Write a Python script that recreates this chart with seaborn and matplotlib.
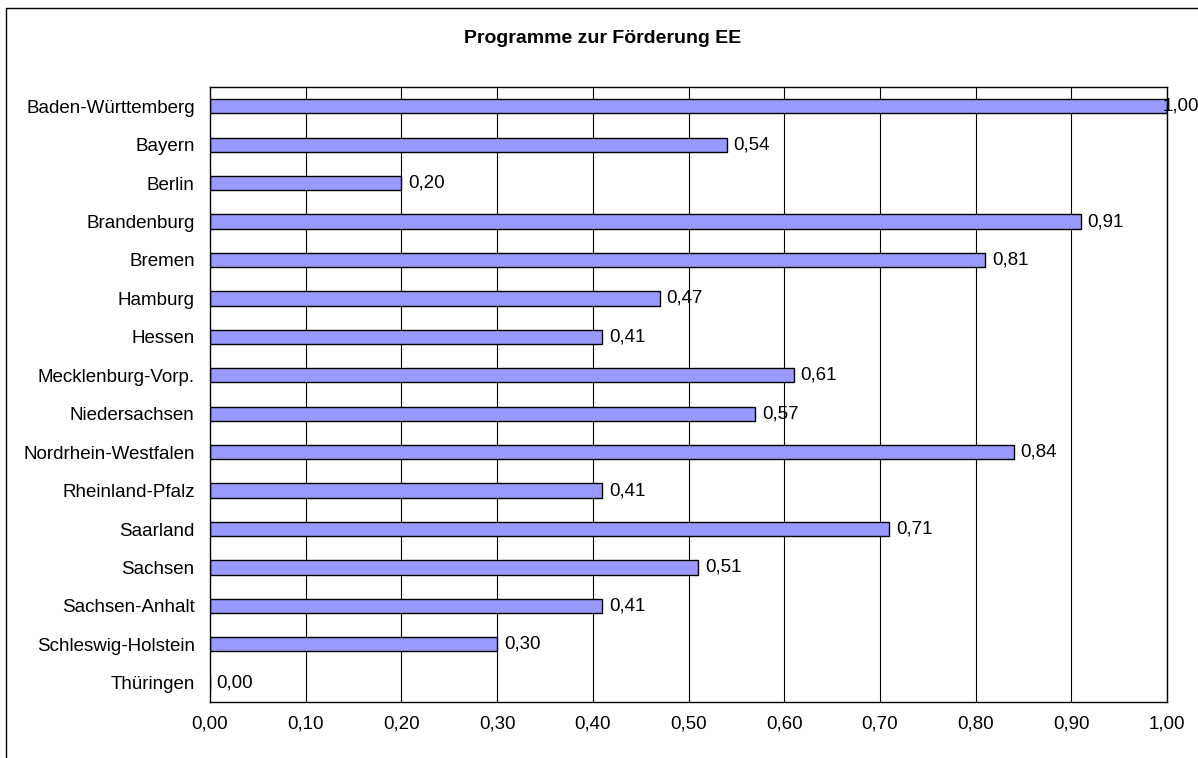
import matplotlib
matplotlib.use("Agg")
import matplotlib.pyplot as plt
from matplotlib.lines import Line2D
import seaborn as sns
import pandas as pd
import numpy as np

laender = ["Baden-Württemberg", "Bayern", "Berlin", "Brandenburg", "Bremen",
           "Hamburg", "Hessen", "Mecklenburg-Vorp.", "Niedersachsen",
           "Nordrhein-Westfalen", "Rheinland-Pfalz", "Saarland", "Sachsen",
           "Sachsen-Anhalt", "Schleswig-Holstein", "Thüringen"]
werte = [1.00, 0.54, 0.20, 0.91, 0.81, 0.47, 0.41, 0.61, 0.57,
         0.84, 0.41, 0.71, 0.51, 0.41, 0.30, 0.00]
x_ticks = [0.0, 0.1, 0.2, 0.3, 0.4, 0.5, 0.6, 0.7, 0.8, 0.9, 1.0]

df = pd.DataFrame({"land": laender, "wert": werte})

sns.set_style("white")
plt.rcParams["font.family"] = ["Liberation Sans", "DejaVu Sans"]
plt.rcParams["text.color"] = "black"
plt.rcParams["xtick.color"] = "black"
plt.rcParams["ytick.color"] = "black"

fig = plt.figure(figsize=(11.98, 7.58), dpi=100)
ax = fig.add_axes([210 / 1198, 56 / 758, 957 / 1198, 615 / 758])

sns.barplot(data=df, x="wert", y="land", orient="h", color="#9999FF",
            edgecolor="black", linewidth=1.0, width=0.37, saturation=1,
            ax=ax)

ax.set_xlim(0, 1)
ax.set_ylim(len(laender) - 0.5, -0.5)
ax.set_xticks(x_ticks)
ax.set_xticklabels([f"{v:.2f}".replace(".", ",") for v in x_ticks], fontsize=13.5)
ax.tick_params(axis="x", length=5, width=1, direction="out", pad=5)
ax.tick_params(axis="y", length=0, pad=11, labelsize=13.5)
ax.set_yticks(np.arange(-0.5, len(laender), 1), minor=True)
ax.tick_params(axis="y", which="minor", length=4, width=1, direction="out")
ax.set_xlabel("")
ax.set_ylabel("")

# vertical gridlines
for v in x_ticks[1:]:
    ax.axvline(v, color="black", lw=0.8, zorder=0)
ax.set_axisbelow(True)

for s in ax.spines.values():
    s.set_visible(True)
    s.set_color("black")
    s.set_linewidth(1)

# value labels (Excel pushes the last one back inside the frame)
for i, v in enumerate(werte):
    ax.text(min(v + 0.007, 0.995), i, f"{v:.2f}".replace(".", ","),
            va="center", ha="left", fontsize=13.5, clip_on=False)

fig.text(0.503, 0.949, "Programme zur Förderung EE", ha="center", va="center",
         fontsize=14, fontweight="bold")

# chart frame (top and left edge visible)
fig.add_artist(Line2D([6 / 1198, 6 / 1198], [0, 1 - 8 / 758], color="black", lw=1))
fig.add_artist(Line2D([6 / 1198, 1], [1 - 8 / 758, 1 - 8 / 758], color="black", lw=1))

fig.savefig("out.png", dpi=100)
